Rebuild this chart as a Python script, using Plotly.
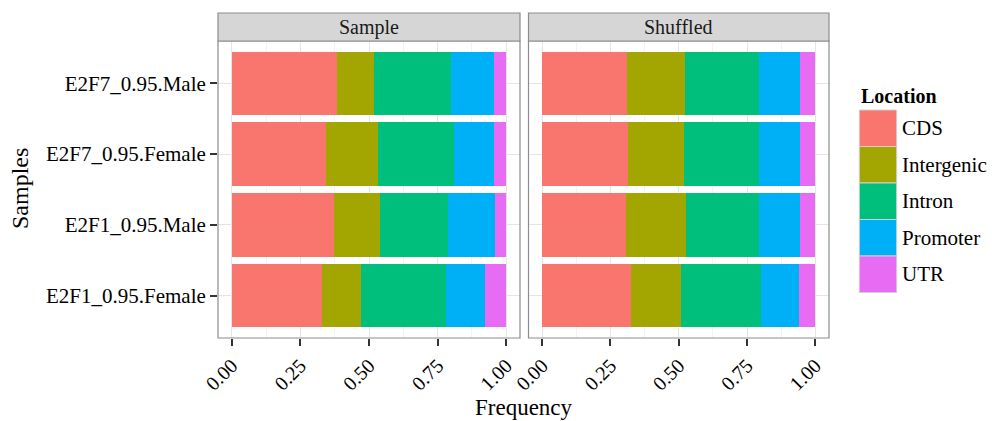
import plotly.graph_objects as go
from plotly.subplots import make_subplots

samples = ["E2F1_0.95.Female", "E2F1_0.95.Male", "E2F7_0.95.Female", "E2F7_0.95.Male"]
locations = ["CDS", "Intergenic", "Intron", "Promoter", "UTR"]
colors = ["#F8766D", "#A3A500", "#00BF7D", "#00B0F6", "#E76BF3"]
panels = ["Sample", "Shuffled"]

# Frequencies per location, order follows `samples`
sample_vals = {
    "CDS":        [0.329, 0.373, 0.343, 0.382],
    "Intergenic": [0.141, 0.166, 0.189, 0.136],
    "Intron":     [0.311, 0.249, 0.277, 0.279],
    "Promoter":   [0.142, 0.170, 0.146, 0.158],
    "UTR":        [0.077, 0.042, 0.045, 0.045],
}
shuffled_vals = {
    "CDS":        [0.324, 0.306, 0.316, 0.312],
    "Intergenic": [0.185, 0.221, 0.205, 0.211],
    "Intron":     [0.291, 0.265, 0.274, 0.269],
    "Promoter":   [0.140, 0.151, 0.148, 0.151],
    "UTR":        [0.060, 0.057, 0.057, 0.057],
}
tick_vals = [0, 0.25, 0.5, 0.75, 1.0]
tick_text = ["0.00", "0.25", "0.50", "0.75", "1.00"]

W, H = 992, 421
L, R, T, B = 218, 829, 41, 338  # plot area in pixels
FONT = "'Liberation Serif', 'Times New Roman', 'DejaVu Serif', serif"


def px(x):
    return (x - L) / (R - L)


def py(y):
    return (B - y) / (B - T)


fig = make_subplots(rows=1, cols=2, shared_yaxes=True, horizontal_spacing=0.0)

for ci, vals in enumerate([sample_vals, shuffled_vals], start=1):
    for loc, col in zip(locations, colors):
        fig.add_trace(go.Bar(
            y=samples, x=vals[loc], orientation="h", name=loc,
            marker=dict(color=col, line=dict(width=0)),
            showlegend=False,
        ), row=1, col=ci)

d1 = [0, px(520)]
d2 = [px(528.5), 1]
fig.update_layout(
    width=W, height=H,
    margin=dict(l=L, r=W - R, t=T, b=H - B, autoexpand=False),
    barmode="stack", bargap=0.1,
    plot_bgcolor="white", paper_bgcolor="white",
    font=dict(family=FONT, size=21, color="black"),
    showlegend=False,
)
for ax, dom in (("xaxis", d1), ("xaxis2", d2)):
    fig.layout[ax].update(
        domain=dom, range=[-0.05, 1.05], tickvals=tick_vals, ticktext=tick_text,
        tickangle=-45, ticks="outside", ticklen=7, tickwidth=1.5, tickcolor="#333333",
        showgrid=True, gridcolor="#E5E5E5", gridwidth=1, zeroline=False,
        tickfont=dict(size=20, family=FONT, color="black"), automargin=False,
        minor=dict(tick0=0.125, dtick=0.25, showgrid=True, gridcolor="#F3F3F3", ticklen=0),
    )
for ax in ("yaxis", "yaxis2"):
    fig.layout[ax].update(
        categoryorder="array", categoryarray=samples, range=[-0.6, 3.6],
        showgrid=True, gridcolor="#E5E5E5", zeroline=False, automargin=False,
    )
fig.layout.yaxis.update(ticks="outside", ticklen=7, tickwidth=1.5, tickcolor="#333333",
                        tickfont=dict(size=21, family=FONT, color="black"))
fig.layout.yaxis2.update(showticklabels=False, ticks="")

shapes = []
annotations = []
strip_top = py(13)
for dom, name in ((d1, panels[0]), (d2, panels[1])):
    shapes.append(dict(type="rect", xref="paper", yref="paper", x0=dom[0], x1=dom[1], y0=0, y1=1,
                       line=dict(color="#8C8C8C", width=1.2), fillcolor="rgba(0,0,0,0)", layer="above"))
    shapes.append(dict(type="rect", xref="paper", yref="paper", x0=dom[0], x1=dom[1], y0=1, y1=strip_top,
                       line=dict(color="#8C8C8C", width=1.2), fillcolor="#D6D6D6", layer="above"))
    annotations.append(dict(text=name, xref="paper", yref="paper", x=(dom[0] + dom[1]) / 2,
                            y=(1 + strip_top) / 2, showarrow=False, xanchor="center", yanchor="middle",
                            font=dict(size=20, family=FONT, color="#1A1A1A")))

# axis titles
annotations.append(dict(text="Frequency", xref="paper", yref="paper", x=px(524), y=py(407),
                        showarrow=False, xanchor="center", yanchor="middle",
                        font=dict(size=23, family=FONT, color="black")))
annotations.append(dict(text="Samples", xref="paper", yref="paper", x=px(20), y=py(189),
                        showarrow=False, xanchor="center", yanchor="middle", textangle=-90,
                        font=dict(size=24, family=FONT, color="black")))

# legend
annotations.append(dict(text="<b>Location</b>", xref="paper", yref="paper", x=px(859), y=py(96),
                        showarrow=False, xanchor="left", yanchor="middle",
                        font=dict(size=20, family=FONT, color="black")))
key_top, key_h = 110, 36.5
for i, (loc, col) in enumerate(zip(locations, colors)):
    y0 = key_top + i * key_h
    shapes.append(dict(type="rect", xref="paper", yref="paper", x0=px(859.3), x1=px(896.7),
                       y0=py(y0 + key_h), y1=py(y0), fillcolor=col,
                       line=dict(color="#D0D0D0", width=1)))
    annotations.append(dict(text=loc, xref="paper", yref="paper", x=px(900), y=py(y0 + key_h / 2),
                            showarrow=False, xanchor="left", yanchor="middle",
                            font=dict(size=21, family=FONT, color="black")))

fig.update_layout(shapes=shapes, annotations=annotations)
fig.write_html("out.html")
